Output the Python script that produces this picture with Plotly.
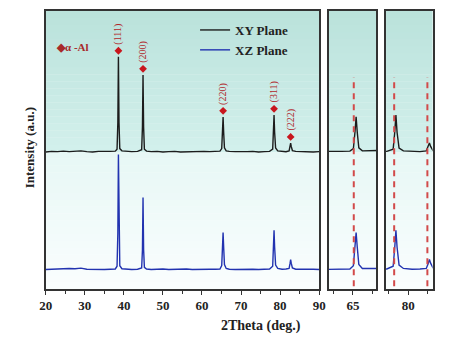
import numpy as np
import plotly.graph_objects as go

# ---------------- data ----------------
two_theta = [20.0, 21.5, 23.0, 24.5, 26.0, 27.5, 29.0, 30.5, 32.0, 33.5, 35.0, 36.5, 37.8,
             38.25, 38.45, 38.6, 38.75, 38.95, 39.5, 40.5, 42.0, 43.5,
             44.55, 44.75, 44.9, 45.05, 45.25, 45.8, 47.0, 48.5, 50.0, 51.5, 53.0, 54.5,
             56.0, 57.5, 59.0, 60.5, 62.0, 63.5, 64.6,
             65.05, 65.25, 65.4, 65.55, 65.75, 66.2, 67.0, 68.5, 70.0, 71.5, 73.0, 74.5,
             76.0, 77.3, 78.1, 78.3, 78.45, 78.6, 78.85, 79.4, 80.5, 81.5,
             82.3, 82.55, 82.7, 82.85, 83.15, 84.0, 85.5, 87.0, 88.5, 90.0]

intensity_xy = [70, 72, 71, 73, 71, 72, 74, 71, 70, 72, 71, 72, 73,
                80, 175, 412, 175, 82, 74, 72, 71, 72,
                78, 160, 347, 160, 80, 73, 71, 72, 70, 71, 72, 70,
                71, 70, 71, 72, 71, 72, 73,
                82, 140, 196, 140, 85, 74, 72, 71, 70, 71, 72, 70,
                71, 72, 80, 140, 203, 140, 84, 74, 72, 71,
                74, 90, 102, 90, 75, 72, 71, 72, 70, 71]

intensity_xz = [70, 71, 73, 72, 74, 73, 75, 71, 70, 71, 70, 71, 72,
                82, 200, 484, 205, 84, 73, 71, 70, 71,
                76, 140, 329, 142, 78, 72, 70, 71, 72, 70, 71, 70,
                72, 70, 71, 70, 71, 71, 72,
                84, 145, 203, 150, 88, 74, 71, 70, 71, 70, 71, 70,
                71, 72, 82, 148, 211, 150, 86, 74, 71, 72,
                74, 92, 106, 93, 76, 71, 70, 71, 71, 70]

XY_OFFSET = 423            # vertical stacking offset of the XY pattern

peak_labels = ["(111)", "(200)", "(220)", "(311)", "(222)"]
peak_pos = [38.6, 44.9, 65.4, 78.45, 82.7]
ref_lines = [65.1, 78.23, 82.44]   # dashed reference positions in the zoom panels

series_names = ["XY Plane", "XZ Plane"]

# ---------------- style ----------------
SERIF = "Liberation Serif"
C_XY = "#1c1c1c"
C_XZ = "#2233b0"
C_RED = "#c8161d"
C_DASH = "#d24a4a"
W, H = 458, 337

def px_x(p):
    return p / W

def px_y(p):
    return 1 - p / H

dom_main = [px_x(40), px_x(322)]
dom_z1 = [px_x(332), px_x(381)]
dom_z2 = [px_x(391), px_x(439)]
dom_y = [px_y(289), px_y(11)]

xy_plot = [v + XY_OFFSET for v in intensity_xy]

fig = go.Figure()

for xa, ya, show in [("x", "y", True), ("x2", "y2", False), ("x3", "y3", False)]:
    fig.add_trace(go.Scatter(x=two_theta, y=xy_plot, mode="lines", name=series_names[0],
                             line=dict(color=C_XY, width=1.4), xaxis=xa, yaxis=ya,
                             showlegend=show))
    fig.add_trace(go.Scatter(x=two_theta, y=intensity_xz, mode="lines", name=series_names[1],
                             line=dict(color=C_XZ, width=1.4), xaxis=xa, yaxis=ya,
                             showlegend=show))

# diamonds above the XY peaks
GAP = 22
marker_y = [xy_plot[two_theta.index(p)] + GAP for p in peak_pos]
fig.add_trace(go.Scatter(x=peak_pos, y=marker_y, mode="markers", showlegend=False,
                         marker=dict(symbol="diamond", size=6, color=C_RED),
                         xaxis="x", yaxis="y"))

annotations = []
for lab, x, y in zip(peak_labels, peak_pos, marker_y):
    annotations.append(dict(x=x, y=y, xref="x", yref="y", text=lab, showarrow=False,
                            textangle=-90, xanchor="center", yanchor="bottom", yshift=4,
                            font=dict(family=SERIF, size=10, color="#b0262a")))

annotations += [
    dict(x=px_x(48), y=px_y(47), xref="paper", yref="paper", text="◆α -Al",
         showarrow=False, xanchor="left", yanchor="middle",
         font=dict(family=SERIF, size=11, color="#a82a2a", weight="bold")),
    dict(x=px_x(262), y=px_y(326), xref="paper", yref="paper", text="2Theta (deg.)",
         showarrow=False, xanchor="center", yanchor="middle",
         font=dict(family=SERIF, size=14, color="#222", weight="bold")),
    dict(x=px_x(23), y=px_y(148), xref="paper", yref="paper", text="Intensity (a.u.)",
         showarrow=False, textangle=-90, xanchor="center", yanchor="middle",
         font=dict(family=SERIF, size=13, color="#222", weight="bold")),
]

# ---------------- background gradient bands ----------------
YMAX = 1000
base_level = XY_OFFSET + 70
shapes = []

def lerp(c0, c1, t):
    a = [int(c0[i:i + 2], 16) for i in (1, 3, 5)]
    b = [int(c1[i:i + 2], 16) for i in (1, 3, 5)]
    return "rgb(%d,%d,%d)" % tuple(round(a[k] + (b[k] - a[k]) * t) for k in range(3))

def bands(xref, y0, y1, c0, c1, n):
    edges = np.linspace(y0, y1, n + 1)
    for i in range(n):
        shapes.append(dict(type="rect", xref=xref, yref="y", x0=0, x1=1,
                           y0=edges[i], y1=edges[i + 1] + 1, line=dict(width=0),
                           fillcolor=lerp(c0, c1, (i + 0.5) / n), layer="below"))

for xr in ["x domain", "x2 domain", "x3 domain"]:
    bands(xr, 0, base_level, "#fbfefe", "#e6f7f5", 20)
    bands(xr, base_level, YMAX, "#d3f0ec", "#bae2db", 20)

# dashed reference lines in the zoom panels
for xv in ref_lines:
    xr = "x2" if xv < 70 else "x3"
    shapes.append(dict(type="line", xref=xr, yref="y", x0=xv, x1=xv, y0=10, y1=763,
                       line=dict(color=C_DASH, width=2, dash="6px,5px")))

tickfont = dict(family=SERIF, size=13, color="#222", weight="bold")
axis_common = dict(showline=True, mirror=True, linecolor="#333", linewidth=1.6,
                   showgrid=False, zeroline=False, ticks="outside", ticklen=4,
                   tickwidth=1.3, tickcolor="#333", tickfont=tickfont)

fig.update_layout(
    width=W, height=H, margin=dict(l=0, r=0, t=0, b=0),
    paper_bgcolor="white", plot_bgcolor="white",
    xaxis=dict(domain=dom_main, range=[20, 90], dtick=10, tick0=20,
               minor=dict(dtick=5, tick0=20, ticks="outside", ticklen=3, tickcolor="#333"),
               anchor="y", **axis_common),
    xaxis2=dict(domain=dom_z1, range=[61.9, 68.0], dtick=5, tick0=60,
                minor=dict(dtick=2.5, tick0=60, ticks="outside", ticklen=3, tickcolor="#333"),
                anchor="y2", **axis_common),
    xaxis3=dict(domain=dom_z2, range=[77.2, 83.1], dtick=5, tick0=80,
                minor=dict(dtick=2.5, tick0=80, ticks="outside", ticklen=3, tickcolor="#333"),
                anchor="y3", **axis_common),
    yaxis=dict(domain=dom_y, range=[0, YMAX], showticklabels=False, ticks="",
               showline=True, mirror=True, linecolor="#333", linewidth=1.6,
               showgrid=False, zeroline=False, anchor="x"),
    yaxis2=dict(domain=dom_y, range=[0, YMAX], matches="y", showticklabels=False, ticks="",
                showline=True, mirror=True, linecolor="#333", linewidth=1.6,
                showgrid=False, zeroline=False, anchor="x2"),
    yaxis3=dict(domain=dom_y, range=[0, YMAX], matches="y", showticklabels=False, ticks="",
                showline=True, mirror=True, linecolor="#333", linewidth=1.6,
                showgrid=False, zeroline=False, anchor="x3"),
    legend=dict(x=px_x(194), y=px_y(15), xanchor="left", yanchor="top",
                bgcolor="rgba(0,0,0,0)", tracegroupgap=0, itemwidth=30,
                font=dict(family=SERIF, size=13, color="#222", weight="bold")),
    shapes=shapes, annotations=annotations, showlegend=True,
)

fig.write_html("out.html")
